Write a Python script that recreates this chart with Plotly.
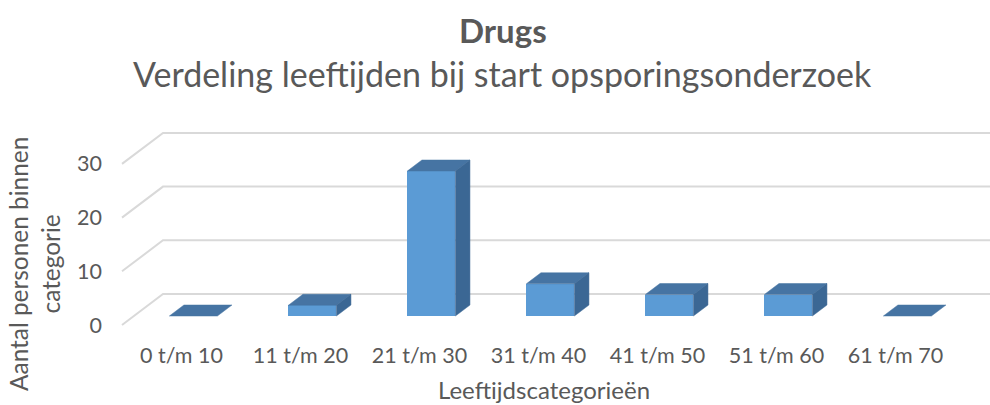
import plotly.graph_objects as go

categories = ["0 t/m 10", "11 t/m 20", "21 t/m 30", "31 t/m 40", "41 t/m 50", "51 t/m 60", "61 t/m 70"]
values = [0, 2, 27, 6, 4, 4, 0]
y_ticks = [0, 10, 20, 30]

title = "Drugs"
subtitle = "Verdeling leeftijden bij start opsporingsonderzoek"
x_title = "Leeftijdscategorieën"
y_title = "Aantal personen binnen<br>categorie"

W, H = 990, 405
# pixel geometry of the pseudo-3D projection
PX_X = 119.0        # pixels per category
PX_Y = 5.37         # pixels per value unit
X0_PX = 122.0       # pixel x of left floor edge (front)
Y0_PX = 325.0       # pixel y of value 0 (front)
T, B = 120, 65      # plot area top/bottom margins
DX = 41.0 / PX_X    # full depth offset in x units
DY = 31.0 / PX_Y    # full depth offset in y units
Z0, Z1 = 0.29, 0.645
BW = 48.0 / PX_X

xa = -0.5 - X0_PX / PX_X
xb = xa + W / PX_X
ya = -((H - B) - Y0_PX) / PX_Y
yb = (Y0_PX - T) / PX_Y

GRID = "#d9d9d9"
FRONT = "#5b9bd5"
TOP = "#4674a3"
SIDE = "#3b6794"
TXT = "#595959"
FONT = "Lato, 'Open Sans', sans-serif"

fig = go.Figure()

n = len(categories)
# back wall gridlines and side wall diagonals (below the bars)
for v in y_ticks:
    fig.add_shape(type="path",
                  path=f"M {-0.5} {v} L {-0.5 + DX} {v + DY} L {n + 1} {v + DY}",
                  xref="x", yref="y", layer="below",
                  line=dict(color=GRID, width=2))

# bar front faces
xs = [i + Z0 * DX for i in range(n)]
fig.add_trace(go.Bar(
    x=xs, y=values, base=[Z0 * DY] * n, width=BW,
    marker=dict(color=FRONT, line=dict(width=0)),
    showlegend=False, hoverinfo="skip"))

ddx = (Z1 - Z0) * DX
ddy = (Z1 - Z0) * DY
for i, v in enumerate(values):
    xl = xs[i] - BW / 2
    xr = xs[i] + BW / 2
    yb0 = Z0 * DY
    # top face
    fig.add_trace(go.Scatter(
        x=[xl, xr, xr + ddx, xl + ddx, xl],
        y=[v + yb0, v + yb0, v + yb0 + ddy, v + yb0 + ddy, v + yb0],
        fill="toself", fillcolor=TOP, mode="lines",
        line=dict(color=TOP, width=0.5),
        hoverinfo="skip", showlegend=False))
    if v > 0:
        # side face
        fig.add_trace(go.Scatter(
            x=[xr, xr + ddx, xr + ddx, xr, xr],
            y=[yb0, yb0 + ddy, v + yb0 + ddy, v + yb0, yb0],
            fill="toself", fillcolor=SIDE, mode="lines",
            line=dict(color=SIDE, width=0.5),
            hoverinfo="skip", showlegend=False))

fig.update_layout(
    width=W, height=H,
    margin=dict(l=0, r=0, t=T, b=B, pad=0),
    paper_bgcolor="white", plot_bgcolor="white",
    font=dict(family=FONT, color=TXT, size=21),
    xaxis=dict(range=[xa, xb], tickmode="array", tickvals=list(range(n)),
               ticktext=categories, showgrid=False, zeroline=False,
               showline=False, ticks="", tickfont=dict(size=21.5, color=TXT),
               fixedrange=True),
    yaxis=dict(range=[ya, yb], tickmode="array", tickvals=y_ticks,
               ticktext=[str(t) for t in y_ticks],
               showgrid=False, zeroline=False, showline=False, ticks="",
               anchor="free", position=102 / W,
               tickfont=dict(size=21.5, color=TXT), fixedrange=True),
    bargap=0,
    showlegend=False,
)

def py_to_paper(py):
    return ((H - B) - py) / (H - T - B)

def ann(text, cx, cy, size, angle=0):
    fig.add_annotation(text=text, x=cx / W, y=py_to_paper(cy),
                       xref="paper", yref="paper", showarrow=False,
                       xanchor="center", yanchor="middle", textangle=angle,
                       font=dict(size=size, color=TXT, family=FONT))

ann("<b>" + title + "</b>", 503, 30, 33)
ann(subtitle, 502, 73, 34)
ann(x_title, 544, 389, 24)
ann(y_title, 34, 264, 24.4, -90)

fig.write_html("out.html", config={"displayModeBar": False},
               post_script="document.body.style.margin='0';")
